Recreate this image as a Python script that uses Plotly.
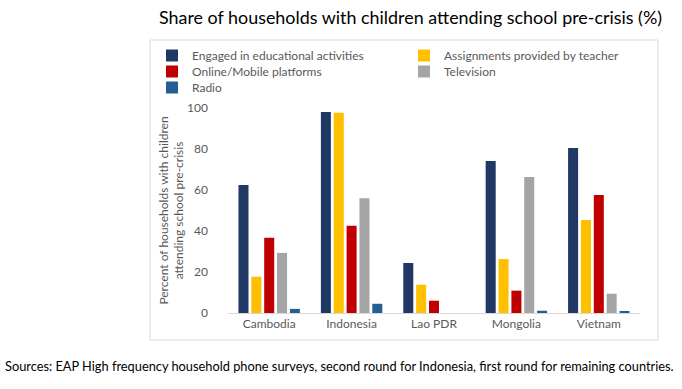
import plotly.graph_objects as go

countries = ["Cambodia", "Indonesia", "Lao PDR", "Mongolia", "Vietnam"]
engaged = [62.4, 98.0, 24.4, 74.1, 80.5]
assignments = [17.7, 97.7, 13.8, 26.3, 45.4]
online = [36.7, 42.6, 6.0, 10.9, 57.6]
television = [29.3, 56.0, 0, 66.3, 9.4]
radio = [2.0, 4.5, 0, 1.1, 0.5]

series = [
    ("Engaged in educational activities", engaged, "#1F3864", "legend"),
    ("Assignments provided by teacher", assignments, "#FFC000", "legend"),
    ("Online/Mobile platforms", online, "#C00000", "legend2"),
    ("Television", television, "#A5A5A5", "legend2"),
    ("Radio", radio, "#255E91", "legend3"),
]

FONT = "Lato"
fig = go.Figure()
for name, vals, col, lg in series:
    fig.add_trace(go.Bar(name=name, x=countries, y=vals, marker_color=col,
                         marker_line_width=0, legend=lg))

W, H = 682, 389
L, R, T, B = 228, 42, 108, 76
pw, ph = W - L - R, H - T - B

def px(x):
    return (x - L) / pw

def py(y):
    return (H - B - y) / ph

def legend_row(top):
    return dict(orientation="h", x=px(152), xanchor="left", y=py(top), yanchor="top",
                entrywidth=207, entrywidthmode="pixels", itemwidth=30,
                font=dict(family=FONT, size=12, color="#595959"),
                bgcolor="rgba(0,0,0,0)", traceorder="normal")

fig.update_layout(
    width=W, height=H,
    margin=dict(l=L, r=R, t=T, b=B, autoexpand=False),
    paper_bgcolor="white", plot_bgcolor="rgba(0,0,0,0)",
    barmode="group", bargap=0.22, bargroupgap=0.22,
    font=dict(family=FONT, color="#595959", size=11),
    showlegend=True,
    legend=legend_row(41),
    legend2=legend_row(57),
    legend3=legend_row(73),
    xaxis=dict(showline=True, linecolor="#D9D9D9", linewidth=1, ticks="",
               tickfont=dict(size=12, color="#595959"), showgrid=False),
    yaxis=dict(range=[0, 100], dtick=20, showgrid=False, zeroline=False, showline=False,
               ticks="", tickfont=dict(size=12, color="#595959"), ticklabelstandoff=19,
               title=dict(text="Percent of households with children<br>attending school pre-crisis",
                          font=dict(size=12, color="#595959"), standoff=0)),
    shapes=[dict(type="rect", xref="paper", yref="paper",
                 x0=px(150), x1=px(658), y0=py(340), y1=py(40),
                 line=dict(color="#D9D9D9", width=1), fillcolor="rgba(0,0,0,0)", layer="above")],
    annotations=[
        dict(text="Share of households with children attending school pre-crisis (%)",
             xref="paper", yref="paper", x=px(410), y=py(17), xanchor="center", yanchor="middle",
             showarrow=False, font=dict(family=FONT, size=17.9, color="#000000")),
        dict(text="Sources: EAP High frequency household phone surveys, second round for Indonesia, first round for remaining countries.",
             xref="paper", yref="paper", x=px(3), y=py(366), xanchor="left", yanchor="middle",
             showarrow=False, font=dict(family=FONT, size=12.8, color="#000000")),
    ],
)

fig.write_html("out.html", config={"displayModeBar": False},
               post_script="document.body.style.margin='0';document.body.style.padding='0';")
